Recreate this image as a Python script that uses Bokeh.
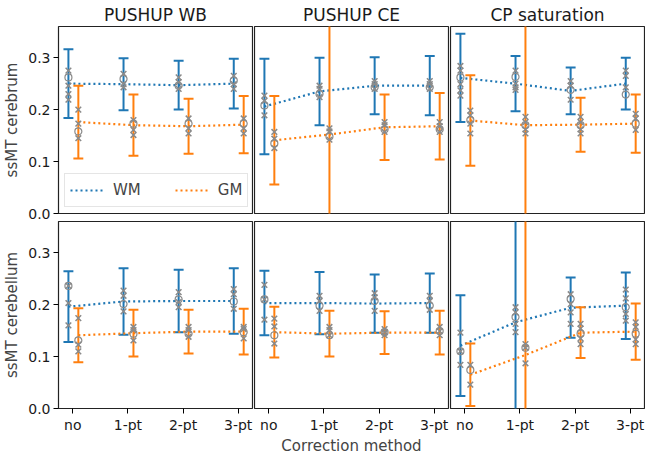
from bokeh.plotting import figure
from bokeh.layouts import gridplot
from bokeh.models import (FixedTicker, Range1d, Legend, LegendItem,
                          ColumnDataSource, PrintfTickFormatter)
from bokeh.embed import file_html
from bokeh.resources import INLINE

FONT = "DejaVu Sans"
BLUE = "#1f77b4"
ORANGE = "#ff7f0e"
GREY = "#8a8a8a"

methods = ["no", "1-pt", "2-pt", "3-pt"]
panel_titles = ["PUSHUP WB", "PUSHUP CE", "CP saturation"]
row_labels = ["ssMT cerebrum", "ssMT cerebellum"]
x_label = "Correction method"
y_ticks = [0.0, 0.1, 0.2, 0.3]

# ---------------- cerebrum ----------------
wb_cbr_wm_mean = [0.250, 0.249, 0.247, 0.250]
wb_cbr_wm_err = [0.066, 0.050, 0.047, 0.048]
wb_cbr_gm_mean = [0.176, 0.170, 0.168, 0.171]
wb_cbr_gm_err = [0.070, 0.059, 0.053, 0.055]
wb_cbr_wm_pts = [[0.275, 0.246, 0.230, 0.219], [0.269, 0.249, 0.243], [0.262, 0.253, 0.240], [0.265, 0.249, 0.240]]
wb_cbr_wm_circ = [0.262, 0.259, 0.246, 0.256]
wb_cbr_gm_pts = [[0.200, 0.173, 0.145], [0.180, 0.161, 0.151], [0.183, 0.164, 0.154], [0.183, 0.164, 0.154]]
wb_cbr_gm_circ = [0.158, 0.173, 0.173, 0.173]

ce_cbr_wm_mean = [0.206, 0.235, 0.246, 0.246]
ce_cbr_wm_err = [0.092, 0.065, 0.055, 0.057]
ce_cbr_gm_mean = [0.141, 0.152, 0.166, 0.168]
ce_cbr_gm_err = [0.085, 0.500, 0.063, 0.064]
ce_cbr_wm_pts = [[0.227, 0.217, 0.189], [0.246, 0.240, 0.224], [0.255, 0.249, 0.240], [0.255, 0.249, 0.240]]
ce_cbr_wm_circ = [0.208, 0.230, 0.243, 0.243]
ce_cbr_gm_pts = [[0.157, 0.144, 0.126], [0.164, 0.158, 0.142], [0.176, 0.170, 0.157], [0.176, 0.168, 0.157]]
ce_cbr_gm_circ = [0.135, 0.148, 0.162, 0.162]

cp_cbr_wm_mean = [0.261, 0.250, 0.236, 0.250]
cp_cbr_wm_err = [0.085, 0.053, 0.045, 0.050]
cp_cbr_gm_mean = [0.179, 0.170, 0.171, 0.173]
cp_cbr_gm_err = [0.087, 0.500, 0.052, 0.056]
cp_cbr_wm_pts = [[0.284, 0.275, 0.249, 0.237, 0.227], [0.275, 0.250, 0.243, 0.238], [0.255, 0.246, 0.219], [0.275, 0.265, 0.243]]
cp_cbr_wm_circ = [0.262, 0.263, 0.238, 0.229]
cp_cbr_gm_pts = [[0.198, 0.189, 0.173, 0.154], [0.186, 0.176, 0.162, 0.154], [0.186, 0.176, 0.162, 0.154], [0.192, 0.183, 0.161]]
cp_cbr_gm_circ = [0.180, 0.170, 0.170, 0.173]

# ---------------- cerebellum ----------------
wb_cbl_wm_mean = [0.196, 0.206, 0.207, 0.207]
wb_cbl_wm_err = [0.068, 0.064, 0.060, 0.063]
wb_cbl_gm_mean = [0.141, 0.145, 0.148, 0.148]
wb_cbl_gm_err = [0.052, 0.045, 0.042, 0.044]
wb_cbl_wm_pts = [[0.236, 0.203, 0.160], [0.227, 0.217, 0.187], [0.224, 0.205, 0.195], [0.230, 0.220, 0.192]]
wb_cbl_wm_circ = [0.236, 0.201, 0.210, 0.206]
wb_cbl_gm_pts = [[0.174, 0.123, 0.110], [0.157, 0.151, 0.131], [0.157, 0.151, 0.138], [0.157, 0.153, 0.135]]
wb_cbl_gm_circ = [0.131, 0.144, 0.144, 0.147]

ce_cbl_wm_mean = [0.203, 0.203, 0.202, 0.203]
ce_cbl_wm_err = [0.062, 0.060, 0.056, 0.057]
ce_cbl_gm_mean = [0.147, 0.144, 0.146, 0.146]
ce_cbl_gm_err = [0.049, 0.044, 0.041, 0.042]
ce_cbl_wm_pts = [[0.238, 0.210, 0.171], [0.217, 0.207, 0.188], [0.222, 0.214, 0.188], [0.217, 0.207, 0.190]]
ce_cbl_wm_circ = [0.210, 0.198, 0.207, 0.198]
ce_cbl_gm_pts = [[0.173, 0.158, 0.125], [0.157, 0.151, 0.141], [0.153, 0.147, 0.141], [0.157, 0.149, 0.141]]
ce_cbl_gm_circ = [0.141, 0.141, 0.147, 0.149]

cp_cbl_wm_mean = [0.121, 0.166, 0.194, 0.198]
cp_cbl_wm_err = [0.097, 0.500, 0.058, 0.064]
cp_cbl_gm_mean = [0.065, 0.103, 0.146, 0.148]
cp_cbl_gm_err = [0.060, 0.500, 0.049, 0.054]
cp_cbl_wm_pts = [[0.146, 0.110, 0.084], [0.195, 0.185, 0.163, 0.147], [0.220, 0.201, 0.185, 0.163], [0.229, 0.212, 0.182, 0.169]]
cp_cbl_wm_circ = [0.110, 0.176, 0.211, 0.195]
cp_cbl_gm_pts = [[0.084, 0.046], [0.124, 0.117, 0.087], [0.163, 0.154, 0.135, 0.124], [0.166, 0.157, 0.133, 0.124]]
cp_cbl_gm_circ = [0.074, 0.117, 0.144, 0.144]

panels = [
    [(wb_cbr_wm_mean, wb_cbr_wm_err, wb_cbr_wm_pts, wb_cbr_wm_circ, wb_cbr_gm_mean, wb_cbr_gm_err, wb_cbr_gm_pts, wb_cbr_gm_circ),
     (ce_cbr_wm_mean, ce_cbr_wm_err, ce_cbr_wm_pts, ce_cbr_wm_circ, ce_cbr_gm_mean, ce_cbr_gm_err, ce_cbr_gm_pts, ce_cbr_gm_circ),
     (cp_cbr_wm_mean, cp_cbr_wm_err, cp_cbr_wm_pts, cp_cbr_wm_circ, cp_cbr_gm_mean, cp_cbr_gm_err, cp_cbr_gm_pts, cp_cbr_gm_circ)],
    [(wb_cbl_wm_mean, wb_cbl_wm_err, wb_cbl_wm_pts, wb_cbl_wm_circ, wb_cbl_gm_mean, wb_cbl_gm_err, wb_cbl_gm_pts, wb_cbl_gm_circ),
     (ce_cbl_wm_mean, ce_cbl_wm_err, ce_cbl_wm_pts, ce_cbl_wm_circ, ce_cbl_gm_mean, ce_cbl_gm_err, ce_cbl_gm_pts, ce_cbl_gm_circ),
     (cp_cbl_wm_mean, cp_cbl_wm_err, cp_cbl_wm_pts, cp_cbl_wm_circ, cp_cbl_gm_mean, cp_cbl_gm_err, cp_cbl_gm_pts, cp_cbl_gm_circ)],
]

WM_OFF = -0.08
GM_OFF = 0.10
CAP = 0.09


def draw_group(p, off, mean, err, pts, circ, color):
    xs = [i + off for i in range(len(methods))]
    src = ColumnDataSource(dict(
        x=xs, m=mean,
        lo=[m - e for m, e in zip(mean, err)],
        hi=[m + e for m, e in zip(mean, err)],
        cl=[x - CAP for x in xs], cr=[x + CAP for x in xs]))
    line = p.line('x', 'm', source=src, line_color=color, line_width=2.2,
                  line_dash="2 3")
    p.segment('x', 'lo', 'x', 'hi', source=src, line_color=color, line_width=2)
    p.segment('cl', 'hi', 'cr', 'hi', source=src, line_color=color, line_width=2)
    p.segment('cl', 'lo', 'cr', 'lo', source=src, line_color=color, line_width=2)
    px = [xs[i] for i in range(len(pts)) for _ in pts[i]]
    py = [v for i in range(len(pts)) for v in pts[i]]
    p.scatter(px, py, marker="x", size=8, line_color=GREY, line_width=1.5)
    p.scatter(xs, circ, marker="circle", size=7, fill_color=None,
              line_color=GREY, line_width=1.2)
    return line


figs = []
for r in range(2):
    row = []
    for c in range(3):
        p = figure(
            frame_width=194, frame_height=187,
            output_backend="svg", toolbar_location=None,
            x_range=Range1d(-0.26, 3.26), y_range=Range1d(0, 0.36),
            min_border_left=52 if c == 0 else 1, min_border_right=1,
            min_border_top=24 if r == 0 else 0,
            min_border_bottom=8 if r == 0 else 40,
            x_axis_location="below" if r == 1 else None,
            y_axis_location="left" if c == 0 else None,
        )
        p.xgrid.visible = False
        p.ygrid.visible = False
        p.outline_line_color = "#222222"
        p.outline_line_width = 1.2
        p.background_fill_color = "white"
        p.border_fill_color = "white"
        if r == 0:
            p.title.text = panel_titles[c]
            p.title.align = "center"
            p.title.text_font = FONT
            p.title.text_font_size = "17px"
            p.title.text_font_style = "normal"
            p.title.text_color = "#1a1a1a"
            p.title.standoff = 4
        if c == 0:
            ax = p.yaxis[0]
            ax.ticker = FixedTicker(ticks=y_ticks)
            ax.formatter = PrintfTickFormatter(format="%.1f")
            ax.axis_label = row_labels[r]
            ax.axis_label_text_font = FONT
            ax.axis_label_text_font_size = "15px"
            ax.axis_label_text_font_style = "normal"
            ax.axis_label_standoff = 4
            ax.major_label_text_font = FONT
            ax.major_label_text_font_size = "14px"
            ax.major_label_standoff = 3
            ax.axis_line_color = None
            ax.major_tick_out = 5
            ax.major_tick_in = 0
            ax.minor_tick_line_color = None
            ax.major_label_text_color = "#1a1a1a"
        if r == 1:
            ax = p.xaxis[0]
            ax.ticker = FixedTicker(ticks=list(range(len(methods))))
            ax.major_label_overrides = {i: m for i, m in enumerate(methods)}
            ax.major_label_text_font = FONT
            ax.major_label_text_font_size = "14px"
            ax.major_label_standoff = 3
            ax.axis_line_color = None
            ax.major_tick_out = 5
            ax.major_tick_in = 0
            ax.minor_tick_line_color = None
            ax.major_label_text_color = "#1a1a1a"
            if c == 1:
                ax.axis_label = x_label
                ax.axis_label_text_font = FONT
                ax.axis_label_text_font_size = "15px"
                ax.axis_label_text_font_style = "normal"
                ax.axis_label_standoff = 1

        wm_mean, wm_err, wm_pts, wm_circ, gm_mean, gm_err, gm_pts, gm_circ = panels[r][c]
        wm_line = draw_group(p, WM_OFF, wm_mean, wm_err, wm_pts, wm_circ, BLUE)
        gm_line = draw_group(p, GM_OFF, gm_mean, gm_err, gm_pts, gm_circ, ORANGE)

        if r == 0 and c == 0:
            legend = Legend(
                items=[LegendItem(label="WM", renderers=[wm_line]),
                       LegendItem(label="GM", renderers=[gm_line])],
                orientation="horizontal", location="bottom_left",
                label_text_font=FONT, label_text_font_size="15px",
                glyph_width=33, glyph_height=22, label_standoff=10,
                spacing=34, padding=5, margin=6,
                border_line_color="#cccccc", border_line_width=1,
                background_fill_alpha=0.85)
            p.add_layout(legend)
        row.append(p)
    figs.append(row)

grid = gridplot(figs, toolbar_location=None)

with open("out.html", "w") as f:
    f.write(file_html(grid, INLINE))
